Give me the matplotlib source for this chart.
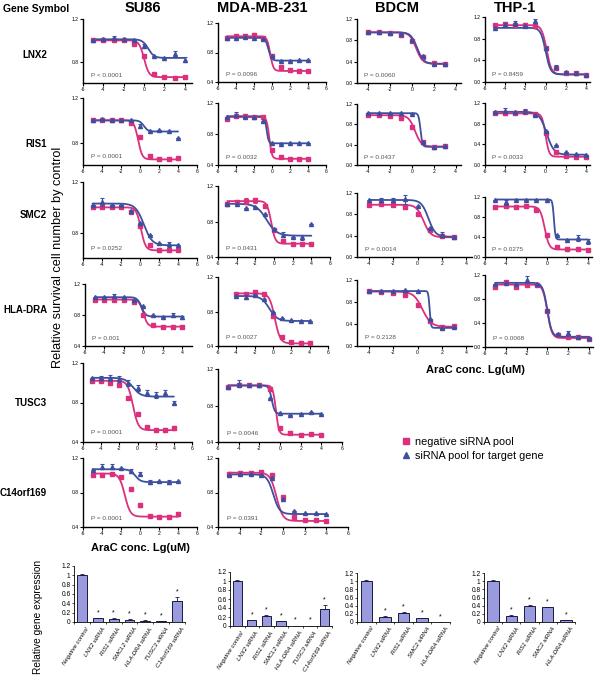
import numpy as np
import matplotlib
matplotlib.use("Agg")
import matplotlib.pyplot as plt
from matplotlib.lines import Line2D

plt.rcParams['font.family'] = ['Liberation Sans', 'DejaVu Sans']

PINK = "#dc2f7c"
BLUE = "#3d4f9f"
BARC = "#9a9ade"

genes = ["LNX2", "RIS1", "SMC2", "HLA-DRA", "TUSC3", "C14orf169"]
cell_lines = ["SU86", "MDA-MB-231", "BDCM", "THP-1"]

# ---------------- SU86 ----------------
su86_x = [[-5, -4, -3, -2, -1, 0, 1, 2, 3, 4]] * 6
su86_neg = [
    [1.00, 1.00, 1.00, 1.00, 0.97, 0.85, 0.68, 0.66, 0.65, 0.66],
    [1.00, 1.00, 1.00, 1.00, 0.98, 0.85, 0.68, 0.65, 0.65, 0.66],
    [1.00, 1.00, 1.00, 1.00, 0.96, 0.85, 0.70, 0.66, 0.66, 0.66],
    [1.00, 1.00, 1.00, 1.00, 0.97, 0.80, 0.67, 0.65, 0.65, 0.65],
    [1.02, 1.02, 1.00, 0.98, 0.85, 0.68, 0.55, 0.52, 0.52, 0.54],
    [1.00, 1.00, 1.02, 0.98, 0.84, 0.65, 0.53, 0.52, 0.52, 0.55],
]
su86_tgt = [
    [1.00, 1.01, 1.02, 1.01, 1.00, 0.95, 0.85, 0.83, 0.87, 0.82],
    [1.00, 1.01, 1.00, 1.00, 1.00, 0.95, 0.90, 0.91, 0.90, 0.84],
    [1.02, 1.04, 1.02, 1.02, 0.97, 0.88, 0.78, 0.72, 0.71, 0.70],
    [1.03, 1.03, 1.05, 1.03, 1.00, 0.92, 0.80, 0.78, 0.80, 0.77],
    [1.05, 1.05, 1.05, 1.04, 1.00, 0.95, 0.90, 0.88, 0.90, 0.80],
    [1.06, 1.10, 1.10, 1.08, 1.05, 1.02, 0.92, 0.93, 0.92, 0.93],
]
su86_neg_err = [
    [0, 0, 0, 0, 0, 0, 0, 0, 0, 0.01],
    [0, 0, 0, 0, 0, 0, 0, 0, 0, 0.01],
    [0, 0, 0, 0, 0, 0, 0, 0, 0, 0],
    [0, 0, 0, 0, 0, 0, 0, 0, 0, 0.01],
    [0, 0, 0, 0, 0, 0, 0, 0, 0.02, 0.02],
    [0, 0, 0, 0, 0, 0.02, 0, 0, 0.02, 0.02],
]
su86_tgt_err = [
    [0, 0, 0.02, 0, 0, 0.02, 0, 0, 0.03, 0.02],
    [0, 0, 0, 0, 0, 0.02, 0, 0, 0, 0],
    [0, 0.03, 0, 0, 0, 0, 0, 0, 0.02, 0],
    [0, 0, 0.02, 0, 0, 0, 0, 0, 0.02, 0.02],
    [0, 0.02, 0.03, 0.03, 0.03, 0.03, 0.03, 0.03, 0.03, 0.02],
    [0, 0.03, 0.03, 0, 0.02, 0.02, 0.02, 0, 0.02, 0],
]
su86_neg_fit = [(1.00, 0.655, 0.0, 1.8), (1.00, 0.65, -0.2, 2.0), (1.00, 0.66, 0.1, 1.8),
                (1.00, 0.65, 0.0, 2.0), (1.02, 0.52, -0.5, 1.5), (1.02, 0.52, -1.6, 1.5)]
su86_tgt_fit = [(1.01, 0.835, 0.4, 1.5), (1.00, 0.90, 0.4, 2.0), (1.03, 0.70, 0.4, 1.0),
                (1.03, 0.78, -0.2, 2.0), (1.05, 0.86, -0.5, 1.0), (1.07, 0.92, -0.5, 1.5)]
su86_p = ["P < 0.0001", "P = 0.0001", "P = 0.0252", "P = 0.001", "P = 0.0001", "P = 0.0001"]

# ---------------- MDA-MB-231 ----------------
mda_x = [[-5, -4, -3, -2, -1, 0, 1, 2, 3, 4],
         [-5, -4, -3, -2, -1, 0, 1, 2, 3, 4],
         [-5, -4, -3, -2, -1, 0, 1, 2, 3, 4],
         [-4, -3, -2, -1, 0, 1, 2, 3, 4],
         [-5, -4, -3, -2, -1, 0, 1, 2, 3, 4],
         [-5, -4, -3, -2, -1, 0, 1, 2, 3, 4]]
mda_neg = [
    [1.00, 1.02, 1.03, 1.04, 1.00, 0.75, 0.60, 0.56, 0.55, 0.55],
    [1.00, 1.03, 1.03, 1.02, 1.02, 0.60, 0.50, 0.48, 0.48, 0.48],
    [1.00, 1.02, 1.03, 1.04, 0.97, 0.70, 0.58, 0.55, 0.55, 0.55],
    [1.00, 1.00, 1.03, 1.00, 0.75, 0.50, 0.45, 0.44, 0.43],
    [1.00, 1.02, 1.02, 1.02, 0.98, 0.55, 0.50, 0.48, 0.49, 0.48],
    [1.02, 1.03, 1.03, 1.04, 1.00, 0.75, 0.52, 0.48, 0.48, 0.47],
]
mda_tgt = [
    [1.00, 1.00, 1.01, 1.00, 0.98, 0.75, 0.68, 0.68, 0.70, 0.70],
    [1.02, 1.05, 1.02, 1.02, 0.97, 0.68, 0.67, 0.68, 0.68, 0.68],
    [1.00, 1.00, 0.95, 0.96, 0.88, 0.72, 0.65, 0.63, 0.62, 0.77],
    [0.98, 0.97, 0.99, 0.95, 0.80, 0.72, 0.70, 0.69, 0.69],
    [1.00, 1.04, 1.02, 1.02, 0.88, 0.72, 0.70, 0.71, 0.73, 0.71],
    [1.00, 1.01, 1.01, 1.00, 0.97, 0.72, 0.58, 0.56, 0.56, 0.55],
]
mda_neg_err = [
    [0, 0.02, 0.02, 0.02, 0, 0, 0, 0, 0, 0],
    [0, 0.02, 0, 0, 0, 0, 0, 0, 0, 0],
    [0, 0, 0.03, 0.03, 0, 0, 0, 0, 0, 0],
    [0, 0, 0.02, 0.02, 0, 0, 0, 0.02, 0],
    [0, 0, 0, 0, 0, 0, 0, 0, 0, 0],
    [0, 0, 0, 0.02, 0, 0, 0, 0, 0, 0],
]
mda_tgt_err = [
    [0, 0, 0, 0, 0, 0, 0, 0, 0, 0],
    [0, 0.03, 0, 0, 0, 0, 0, 0, 0, 0],
    [0, 0, 0, 0, 0, 0, 0.03, 0, 0.03, 0],
    [0, 0.02, 0, 0, 0, 0, 0, 0, 0],
    [0, 0.04, 0, 0, 0, 0, 0, 0, 0, 0],
    [0, 0, 0, 0, 0, 0, 0, 0, 0, 0],
]
mda_neg_fit = [(1.02, 0.55, -0.2, 2.5), (1.02, 0.48, -0.3, 3.0), (1.03, 0.55, -0.3, 2.0),
               (1.01, 0.43, 0.2, 1.5), (1.02, 0.48, -0.4, 3.0), (1.03, 0.47, -0.6, 1.5)]
mda_tgt_fit = [(1.00, 0.69, -0.4, 2.5), (1.03, 0.68, -0.6, 4.0), (1.00, 0.64, -0.8, 0.8),
               (0.98, 0.69, -0.4, 1.0), (1.02, 0.71, -0.8, 3.0), (1.01, 0.55, -0.9, 1.5)]
mda_p = ["P = 0.0096", "P = 0.0032", "P = 0.0431", "P = 0.0027", "P = 0.0046", "P = 0.0391"]

# ---------------- BDCM ----------------
bdcm_x = [[-4, -3, -2, -1, 0, 1, 2, 3]] * 4
bdcm_neg = [
    [0.96, 0.95, 0.93, 0.90, 0.78, 0.48, 0.37, 0.36],
    [0.98, 0.98, 0.96, 0.92, 0.75, 0.45, 0.36, 0.37],
    [0.98, 1.00, 0.97, 0.93, 0.80, 0.50, 0.40, 0.37],
    [1.00, 0.98, 0.96, 0.93, 0.75, 0.45, 0.35, 0.36],
]
bdcm_tgt = [
    [0.95, 0.96, 0.94, 0.92, 0.80, 0.50, 0.36, 0.36],
    [1.02, 1.02, 1.02, 1.02, 1.00, 0.45, 0.36, 0.37],
    [1.06, 1.07, 1.07, 1.08, 0.95, 0.55, 0.42, 0.38],
    [1.00, 1.00, 1.00, 1.01, 1.00, 0.50, 0.33, 0.34],
]
bdcm_neg_err = [[0, 0.02, 0, 0.03, 0, 0, 0, 0]] * 4
bdcm_tgt_err = [
    [0, 0, 0, 0, 0, 0, 0.02, 0],
    [0, 0, 0, 0, 0, 0, 0, 0],
    [0, 0.03, 0.03, 0.08, 0, 0, 0.04, 0],
    [0, 0, 0, 0, 0, 0, 0, 0],
]
bdcm_neg_fit = [(0.95, 0.36, 0.4, 1.5), (0.98, 0.36, 0.3, 1.5), (0.98, 0.37, 0.5, 1.5), (0.99, 0.35, 0.4, 1.2)]
bdcm_tgt_fit = [(0.95, 0.36, 0.5, 1.5), (1.02, 0.36, 0.8, 5.0), (1.07, 0.38, 0.9, 1.5), (1.00, 0.33, 1.0, 8.0)]
bdcm_p = ["P = 0.0060", "P = 0.0437", "P = 0.0014", "P = 0.2128"]

# ---------------- THP-1 ----------------
thp_x = [[-5, -4, -3, -2, -1, 0, 1, 2, 3, 4]] * 4
thp_neg = [
    [1.05, 1.07, 1.05, 1.05, 1.04, 0.62, 0.25, 0.17, 0.16, 0.13],
    [1.00, 1.00, 1.00, 1.02, 0.98, 0.62, 0.25, 0.17, 0.16, 0.15],
    [1.00, 1.02, 1.00, 1.02, 0.95, 0.45, 0.20, 0.17, 0.16, 0.14],
    [1.00, 1.08, 1.00, 1.03, 1.04, 0.60, 0.20, 0.17, 0.16, 0.13],
]
thp_tgt = [
    [1.00, 1.05, 1.08, 1.04, 1.12, 0.62, 0.28, 0.18, 0.17, 0.13],
    [1.02, 1.05, 1.03, 1.05, 0.96, 0.65, 0.38, 0.25, 0.21, 0.20],
    [1.15, 1.10, 1.15, 1.15, 1.15, 1.14, 0.45, 0.35, 0.38, 0.32],
    [1.05, 1.06, 1.05, 1.12, 1.05, 0.62, 0.22, 0.23, 0.17, 0.15],
]
thp_neg_err = [
    [0, 0.04, 0, 0.03, 0, 0, 0, 0, 0, 0],
    [0, 0.03, 0, 0.03, 0, 0, 0, 0, 0, 0],
    [0, 0, 0, 0, 0, 0, 0, 0, 0, 0],
    [0, 0, 0, 0, 0, 0, 0, 0, 0, 0],
]
thp_tgt_err = [
    [0, 0.03, 0.04, 0, 0.04, 0.03, 0.04, 0, 0, 0],
    [0, 0.05, 0, 0.04, 0, 0, 0, 0, 0, 0],
    [0, 0.05, 0, 0, 0, 0, 0, 0, 0.06, 0.05],
    [0, 0, 0, 0.06, 0, 0, 0, 0.04, 0, 0],
]
thp_neg_fit = [(1.05, 0.14, 0.1, 1.8), (1.00, 0.16, 0.0, 2.5), (1.01, 0.15, -0.2, 2.0), (1.04, 0.15, 0.0, 2.0)]
thp_tgt_fit = [(1.00, 0.14, 0.0, 1.8), (1.03, 0.20, 0.1, 1.2), (1.15, 0.35, 0.7, 6.0), (1.07, 0.17, 0.0, 2.0)]
thp_p = ["P = 0.8459", "P = 0.0033", "P = 0.0275", "P = 0.0068"]

# ---------------- knock-down bar charts ----------------
bar_labels_7 = ["Negative control", "LNX2 siRNA", "RIS1 siRNA", "SMCL2 siRNA",
                "HLA-DRA siRNA", "TUSC3 siRNA", "C14orf169 siRNA"]
bar_labels_5 = ["Negative control", "LNX2 siRNA", "RIS1 siRNA", "SMC2 siRNA", "HLA-DRA siRNA"]
su86_expr = [1.00, 0.08, 0.06, 0.05, 0.03, 0.02, 0.44]
su86_expr_err = [0.03, 0.005, 0.02, 0.005, 0.005, 0.005, 0.09]
mda_expr = [1.00, 0.13, 0.22, 0.11, 0.01, 0.01, 0.38]
mda_expr_err = [0.03, 0.005, 0.02, 0.005, 0.0, 0.0, 0.08]
bdcm_expr = [1.00, 0.13, 0.22, 0.10, 0.01]
bdcm_expr_err = [0.03, 0.01, 0.02, 0.005, 0.0]
thp_expr = [1.00, 0.15, 0.40, 0.36, 0.05]
thp_expr_err = [0.03, 0.02, 0.02, 0.0, 0.0]

# =====================================================================
W, H = 600, 677
fig = plt.figure(figsize=(W / 100, H / 100), dpi=100)
fig.patch.set_facecolor("white")


def ax_px(l, r, t, b):
    return fig.add_axes([l / W, 1 - b / H, (r - l) / W, (b - t) / H])


def logistic(x, p):
    top, bot, ec, h = p
    return bot + (top - bot) / (1 + 10 ** ((x - ec) * h))


def dose_panel(box, xlim, ylim, yticks, xticks, x, neg, tgt, nfit, tfit, nerr, terr, ptxt):
    ax = ax_px(*box)
    xs = np.linspace(min(x), max(x), 300)
    ax.plot(xs, logistic(xs, nfit), color=PINK, lw=1.3, zorder=2, solid_capstyle='round')
    ax.plot(xs, logistic(xs, tfit), color=BLUE, lw=1.3, zorder=3, solid_capstyle='round')
    ax.errorbar(x, neg, yerr=nerr, fmt='s', color=PINK, ms=2.7, elinewidth=0.8,
                capsize=1.3, capthick=0.8, zorder=4, clip_on=False)
    ax.errorbar(x, tgt, yerr=terr, fmt='^', color=BLUE, ms=2.9, elinewidth=0.8,
                capsize=1.3, capthick=0.8, zorder=5, clip_on=False)
    ax.set_xlim(*xlim)
    ax.set_ylim(*ylim)
    ax.set_xticks(xticks)
    ax.set_xticklabels([str(t) for t in xticks])
    ax.set_yticks(yticks)
    ax.set_yticklabels([f"{v:.1f}" for v in yticks])
    for s in ("top", "right"):
        ax.spines[s].set_visible(False)
    for s in ("left", "bottom"):
        ax.spines[s].set_linewidth(1.0)
    ax.tick_params(direction="out", length=2, width=0.8, labelsize=3.6, pad=1)
    ax.patch.set_alpha(0)
    ax.text(0.07, 0.1, ptxt, transform=ax.transAxes, fontsize=4.6, color="#555555")
    return ax


# SU86 column
su86_boxes = [(83, 192, 19, 83), (83, 197, 98, 165), (83, 197, 182, 258),
              (85, 192, 284, 346), (83, 192, 363, 442), (83, 197, 458, 527)]
su86_xlims = [(-6, 4.7), (-6, 6), (-6, 6), (-6, 5), (-6, 6), (-6, 6)]
su86_ylims = [(0.6, 1.2), (0.6, 1.2), (0.6, 1.2), (0.4, 1.2), (0.4, 1.2), (0.4, 1.2)]
su86_yticks = [[0.8, 1.2], [0.8, 1.2], [0.8, 1.2], [0.4, 0.8, 1.2], [0.4, 0.8, 1.2], [0.4, 0.8, 1.2]]
su86_xticks = [[-6, -4, -2, 0, 2, 4], [-6, -4, -2, 0, 2, 4, 6], [-6, -4, -2, 0, 2, 4, 6],
               [-6, -4, -2, 0, 2, 4], [-6, -4, -2, 0, 2, 4, 6], [-6, -4, -2, 0, 2, 4, 6]]
for i in range(6):
    dose_panel(su86_boxes[i], su86_xlims[i], su86_ylims[i], su86_yticks[i], su86_xticks[i],
               su86_x[i], su86_neg[i], su86_tgt[i], su86_neg_fit[i], su86_tgt_fit[i],
               su86_neg_err[i], su86_tgt_err[i], su86_p[i])

# MDA column
mda_boxes = [(218, 326, 23, 82), (218, 326, 103, 165), (218, 330, 186, 257),
             (218, 328, 277, 346), (218, 342, 369, 442), (218, 348, 458, 527)]
for i in range(6):
    dose_panel(mda_boxes[i], (-6, 6), (0.4, 1.2), [0.4, 0.8, 1.2], [-6, -4, -2, 0, 2, 4, 6],
               mda_x[i], mda_neg[i], mda_tgt[i], mda_neg_fit[i], mda_tgt_fit[i],
               mda_neg_err[i], mda_tgt_err[i], mda_p[i])

# BDCM column
bdcm_boxes = [(357, 461, 19, 83), (357, 461, 104, 165), (357, 472, 193, 257), (357, 472, 280, 346)]
for i in range(4):
    dose_panel(bdcm_boxes[i], (-5, 4.5), (0.0, 1.2), [0.0, 0.4, 0.8, 1.2], [-4, -2, 0, 2, 4],
               bdcm_x[i], bdcm_neg[i], bdcm_tgt[i], bdcm_neg_fit[i], bdcm_tgt_fit[i],
               bdcm_neg_err[i], bdcm_tgt_err[i], bdcm_p[i])

# THP-1 column
thp_boxes = [(485, 590, 17, 82), (485, 590, 103, 165), (485, 592, 197, 257), (485, 593, 275, 347)]
for i in range(4):
    dose_panel(thp_boxes[i], (-6, 4.4), (0.0, 1.2), [0.0, 0.4, 0.8, 1.2], [-6, -4, -2, 0, 2, 4],
               thp_x[i], thp_neg[i], thp_tgt[i], thp_neg_fit[i], thp_tgt_fit[i],
               thp_neg_err[i], thp_tgt_err[i], thp_p[i])

# ---------------- texts ----------------
def ftext(x, y, s, **kw):
    fig.text(x / W, 1 - y / H, s, **kw)


ftext(36, 9, "Gene Symbol", ha="center", va="center", fontsize=7.5, fontweight="bold")
title_x = [143, 262, 397, 515]
for cx, name in zip(title_x, cell_lines):
    ftext(cx, 8, name, ha="center", va="center", fontsize=10.5, fontweight="bold")

gene_y = [55, 144, 215, 310, 403, 493]
for gy, g in zip(gene_y, genes):
    ftext(47, gy, g, ha="right", va="center", fontsize=7, fontweight="bold")

ftext(58, 257, "Relative survival cell number by control", ha="center", va="center",
      rotation=90, fontsize=9.2)
ftext(475, 370, "AraC conc. Lg(uM)", ha="center", va="center", fontsize=8, fontweight="bold")
ftext(140, 548, "AraC conc. Lg(uM)", ha="center", va="center", fontsize=8, fontweight="bold")
ftext(38, 617, "Relative gene expression", ha="center", va="center", rotation=90, fontsize=7.3)

handles = [Line2D([], [], marker='s', color=PINK, ls='none', ms=4),
           Line2D([], [], marker='^', color=BLUE, ls='none', ms=4)]
fig.legend(handles, ["negative siRNA pool", "siRNA pool for target gene"],
           loc="upper left", bbox_to_anchor=(403 / W, 1 - 437 / H), frameon=False,
           fontsize=7.8, handlelength=0.6, handletextpad=0.5, labelspacing=0.35,
           borderpad=0, borderaxespad=0)

# ---------------- bar charts ----------------
def bar_panel(box, vals, errs, labels):
    ax = ax_px(*box)
    n = len(vals)
    xs = np.arange(n)
    ax.bar(xs, vals, width=0.62, color=BARC, edgecolor="#1a1a40", linewidth=0.7, zorder=2)
    ax.errorbar(xs, vals, yerr=[np.zeros(n), errs], fmt='none', ecolor="#1a1a40",
                elinewidth=0.6, capsize=1.2, capthick=0.6, zorder=3)
    for i in range(1, n):
        ax.text(xs[i], vals[i] + errs[i] + 0.04, "*", ha="center", va="bottom", fontsize=5)
    ax.set_xlim(-0.5, n - 0.5)
    ax.set_ylim(0, 1.2)
    yt = [0, 0.2, 0.4, 0.6, 0.8, 1.0, 1.2]
    ax.set_yticks(yt)
    ax.set_yticklabels(["0", "0.2", "0.4", "0.6", "0.8", "1", "1.2"])
    ax.set_xticks(np.arange(n + 1) - 0.5)
    ax.set_xticklabels([])
    for i, lab in enumerate(labels):
        ax.text(xs[i] + 0.25, -0.1, lab, ha="right", va="top", rotation=57,
                rotation_mode="anchor", fontsize=4.3, style="italic")
    for s in ("top", "right"):
        ax.spines[s].set_visible(False)
    for s in ("left", "bottom"):
        ax.spines[s].set_linewidth(0.6)
    ax.tick_params(direction="out", length=1.5, width=0.5, labelsize=4.8, pad=1)
    ax.patch.set_alpha(0)


bar_panel((74, 185, 566, 622), su86_expr, su86_expr_err, bar_labels_7)
bar_panel((230, 332, 572, 626), mda_expr, mda_expr_err, bar_labels_7)
bar_panel((357, 450, 573, 622), bdcm_expr, bdcm_expr_err, bar_labels_5)
bar_panel((484, 575, 573, 622), thp_expr, thp_expr_err, bar_labels_5)

fig.savefig("out.png", dpi=100, facecolor="white")
